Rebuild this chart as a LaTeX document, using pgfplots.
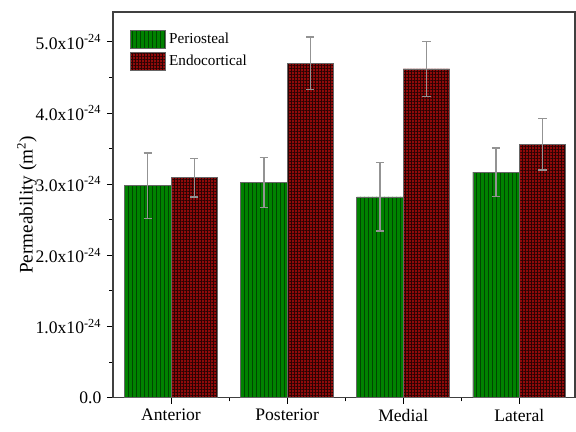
\documentclass[border=0pt]{standalone}
\usepackage{pgfplots}
\pgfplotsset{compat=1.18}
\usepackage{fontspec}
\setmainfont{Liberation Serif}
\usetikzlibrary{patterns.meta}
\definecolor{pgreen}{RGB}{0,130,0}
\definecolor{pgreenline}{RGB}{0,70,0}
\definecolor{ered}{RGB}{145,10,10}
\begin{document}
\begin{tikzpicture}
\begin{axis}[
  name=ax,
  scale only axis,
  width=288.8pt, height=241pt,
  xmin=-0.5, xmax=3.48,
  ymin=0, ymax=5.42,
  xtick={0,1,2,3},
  xticklabels={Anterior,Posterior,Medial,Lateral},
  minor xtick={0.5,1.5,2.5},
  ytick={0,1,2,3,4,5},
  yticklabels={0.0,1.0x10\textsuperscript{-24},2.0x10\textsuperscript{-24},3.0x10\textsuperscript{-24},4.0x10\textsuperscript{-24},5.0x10\textsuperscript{-24}},
  minor ytick={0.5,1.5,2.5,3.5,4.5},
  tick align=outside,
  xtick pos=left, ytick pos=left,
  major tick length=3.75pt, minor tick length=2.3pt,
  every tick/.style={black, line width=0.6pt},
  axis line style={black!75, line width=0.9pt},
  tick label style={font=\fontsize{11}{13}\selectfont},
  ylabel={Permeability (m\textsuperscript{2})},
  ylabel style={font=\fontsize{12}{14}\selectfont, yshift=-7.5pt},
  ybar, bar width=0.4, bar shift auto=false,
  legend style={draw=none, fill=none, at={(0.026,0.963)}, anchor=north west,
    font=\fontsize{9.5}{11.5}\selectfont, row sep=1.5pt,
    legend cell align=left},
  legend image code/.code={\draw[#1] (0pt,-5.4pt) rectangle (22pt,5.4pt);},
  error bars/y dir=both, error bars/y explicit,
  error bars/error bar style={gray!85, line width=0.8pt},
  error bars/error mark options={rotate=90, gray!85, mark size=2.6pt, line width=0.8pt},
]
\addplot[bar shift=-0.2, fill=pgreen, draw=black!60, line width=0.4pt,
  postaction={pattern={Lines[angle=90,distance=2.5pt,line width=0.5pt]}, pattern color=pgreenline}]
  coordinates {(0,2.98) +- (0,0.46) (1,3.02) +- (0,0.35) (2,2.82) +- (0,0.48) (3,3.17) +- (0,0.34)};
\addlegendentry{Periosteal}
\addplot[bar shift=0.2, fill=ered, draw=black!60, line width=0.4pt,
  postaction={pattern={Hatch[angle=0,distance=1.875pt,line width=0.3pt]}, pattern color=black!70!ered}]
  coordinates {(0,3.09) +- (0,0.27) (1,4.70) +- (0,0.37) (2,4.62) +- (0,0.39) (3,3.56) +- (0,0.36)};
\addlegendentry{Endocortical}
\end{axis}
\pgfresetboundingbox
\path ([xshift=-70.6pt,yshift=-21.25pt]ax.south west) rectangle ([xshift=0.6pt,yshift=7.5pt]ax.north east);
\end{tikzpicture}
\end{document}
